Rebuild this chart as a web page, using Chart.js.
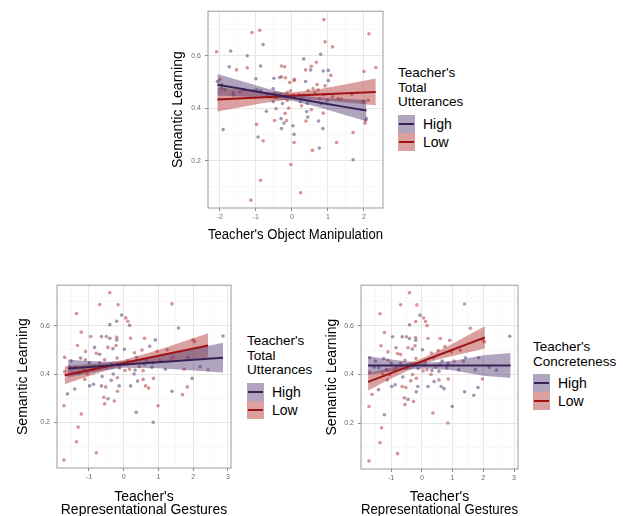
<!DOCTYPE html>
<html>
<head>
<meta charset="utf-8">
<script src="https://cdn.jsdelivr.net/npm/chart.js@4.4.1/dist/chart.umd.min.js"></script>
<style>
  body { margin: 0; background: #fff; font-family: "Liberation Sans", Arial, sans-serif; }
  #wrap { position: relative; width: 623px; height: 516px; overflow: hidden; }
  canvas { position: absolute; }
  .legend { position: absolute; font-size: 13.5px; color: #000; }
  .legend .ttl { line-height: 14.5px; white-space: nowrap; }
  .key { position: relative; height: 18px; }
  .key .box { position: absolute; left: 0; top: 0; width: 17px; height: 18px; }
  .key .box i { position: absolute; left: 1px; right: 1px; top: 8px; height: 2px; }
  .key span { position: absolute; left: 25px; top: 0; line-height: 18px; font-size: 14px; }
  .hi .box { background: rgba(80, 55, 110, 0.45); }
  .hi .box i { background: #3a2155; }
  .lo .box { background: rgba(175, 45, 45, 0.45); }
  .lo .box i { background: #9e1414; }
</style>
</head>
<body>
<div id="wrap">
  <canvas id="topChart" width="216" height="239" style="left:171px;top:3px"></canvas>
  <canvas id="leftChart" width="219" height="240" style="left:16px;top:277px"></canvas>
  <canvas id="rightChart" width="197" height="240" style="left:325px;top:277px"></canvas>

  <div class="legend" style="left:398px;top:66px">
    <div class="ttl">Teacher's<br>Total<br>Utterances</div>
    <div style="height:5px"></div>
    <div class="key hi"><div class="box"><i></i></div><span>High</span></div>
    <div class="key lo"><div class="box"><i></i></div><span>Low</span></div>
  </div>
  <div class="legend" style="left:247px;top:334px">
    <div class="ttl">Teacher's<br>Total<br>Utterances</div>
    <div style="height:5px"></div>
    <div class="key hi"><div class="box"><i></i></div><span>High</span></div>
    <div class="key lo"><div class="box"><i></i></div><span>Low</span></div>
  </div>
  <div class="legend" style="left:533px;top:340px">
    <div class="ttl">Teacher's<br>Concreteness</div>
    <div style="height:5px"></div>
    <div class="key hi"><div class="box"><i></i></div><span>High</span></div>
    <div class="key lo"><div class="box"><i></i></div><span>Low</span></div>
  </div>
</div>

<script>
// ---- top panel: object manipulation (grouped by total utterances) ----
const manipX = [0.89, 2.14, -1.11, -0.89, 0.92, 1.13, -0.80, -1.70, -2.09, -1.24, 0.80, 0.33, 0.68, 0.54, 0.38, -0.29, -0.20, -0.87, -1.74, -1.24,
  -1.54, 0.52, 0.87, 1.01, 1.08, 2.00, 2.33, -1.00, -0.50, -0.34, -0.29, -0.18, -0.06, 0.06, 0.07, 0.38, 0.70, 0.92, 1.01, -1.44,
  -1.63, -0.87, -0.47, -0.52, -0.26, -0.13, 0.24, 0.43, 0.77, 0.81, 0.27, -0.44, -0.09, 0.41, 0.54, 0.87, -0.19, -0.71, -0.48, -0.15,
  -0.22, -0.30, 0.03, 0.39, 0.44, 0.74, -0.29, 0.86, 2.05, 2.07, 2.03, -1.91, -0.98, -0.94, -0.80, 0.06, 0.06, 1.24, 1.70, 0.76,
  0.57, 1.70, -0.03, -0.87, 0.24, -1.14, -1.95, -1.86, -1.63, -1.33, -1.07, -0.98, -0.69, -0.52, -0.43, -0.33, -0.19, -0.13, -0.04, 0.04,
  0.09, 0.20, 0.27, 0.33, 0.45, 0.59, 0.64, 0.73, 0.89, 0.98, 1.13, 1.28, 1.37, 1.66, 1.98, 2.12, -2.07, -2.00, -1.95];
const manipLearn = [0.738, 0.684, 0.689, 0.697, 0.653, 0.634, 0.643, 0.618, 0.615, 0.600, 0.606, 0.588, 0.575, 0.560, 0.546, 0.561, 0.558, 0.561, 0.558, 0.554,
  0.546, 0.546, 0.542, 0.544, 0.525, 0.540, 0.555, 0.512, 0.514, 0.517, 0.520, 0.516, 0.498, 0.505, 0.510, 0.502, 0.490, 0.485, 0.505, 0.462,
  0.458, 0.466, 0.458, 0.425, 0.418, 0.429, 0.425, 0.418, 0.436, 0.418, 0.409, 0.398, 0.400, 0.387, 0.394, 0.381, 0.380, 0.388, 0.353, 0.353,
  0.343, 0.360, 0.333, 0.351, 0.366, 0.351, 0.322, 0.322, 0.353, 0.360, 0.343, 0.318, 0.338, 0.290, 0.275, 0.300, 0.269, 0.269, 0.307, 0.248,
  0.239, 0.203, 0.185, 0.125, 0.077, 0.049, 0.490, 0.470, 0.450, 0.470, 0.466, 0.470, 0.450, 0.475, 0.440, 0.452, 0.445, 0.460, 0.466, 0.450,
  0.440, 0.452, 0.436, 0.450, 0.467, 0.475, 0.459, 0.470, 0.451, 0.428, 0.444, 0.437, 0.435, 0.452, 0.424, 0.430, 0.502, 0.510, 0.477];
const manipUtter = ['L','L','L','L','L','L','H','H','L','H','H','H','L','L','L','L','L','H','H','L',
  'L','H','H','H','L','L','L','H','H','H','L','L','L','L','L','H','L','L','H','L',
  'H','H','L','H','H','L','H','H','L','H','L','H','L','H','L','L','L','H','L','L',
  'H','H','H','L','H','H','H','H','L','H','L','H','L','H','L','H','L','L','L','H',
  'L','H','L','L','L','L','L','L','H','H','L','H','L','H','L','H','H','L','L','L',
  'H','L','L','H','L','L','H','L','L','H','L','L','L','L','H','L','H','L','H'];

// fitted lines and 95% bands
const manipHighFitX = [-2.07, -1.5, -0.75, 0, 0.75, 1.5, 2.07];
const manipHighFit  = [0.489, 0.476, 0.458, 0.440, 0.422, 0.404, 0.391];
const manipHighLo   = [0.448, 0.445, 0.439, 0.428, 0.403, 0.373, 0.350];
const manipHighHi   = [0.530, 0.507, 0.477, 0.452, 0.441, 0.435, 0.432];
const manipLowFitX  = [-2.07, -1.5, -0.75, 0, 0.75, 1.5, 2.33];
const manipLowFit   = [0.433, 0.437, 0.442, 0.447, 0.452, 0.457, 0.462];
const manipLowLo    = [0.387, 0.402, 0.421, 0.434, 0.431, 0.422, 0.411];
const manipLowHi    = [0.479, 0.471, 0.462, 0.460, 0.472, 0.491, 0.513];

// ---- bottom panels: representational gestures ----
const gestX = [-0.40, -0.69, -0.16, 1.39, -1.36, -0.06, 0.06, 0.12, 0.17, -0.20, -0.40, 1.58, -1.22, -0.95, -0.64, -0.50, -0.40, -0.20, -0.20, 0.20,
  0.60, 0.91, 1.99, 2.04, 2.86, -1.33, -1.10, -0.84, -0.69, -0.45, -0.31, -0.22, 0.02, 0.31, 0.53, 0.75, 0.96, 1.25, -1.70, -1.51,
  -1.24, -1.10, -0.99, -0.79, -0.55, -0.19, 0.12, 0.37, 0.66, 0.85, 1.42, 1.85, 2.43, 1.74, 1.20, 0.81, 0.56, 0.33, 0.17, -0.50,
  -0.69, -0.88, -1.15, -1.40, -1.70, -1.28, -1.12, -0.98, -0.87, -0.64, -0.52, -0.36, -0.18, -0.13, 0.20, 0.40, 0.56, 0.63, 0.72, 0.86,
  1.39, 1.69, 1.83, 1.97, -1.41, -1.62, -0.57, -0.45, -0.27, -0.18, 0.99, -1.72, -0.55, 0.36, -1.22, 0.85, -1.31, -1.36, -0.79, -1.72,
  -1.55, -1.05, -0.62, -0.30, -0.12, 0.04, 0.30, 0.60, 1.05, 1.35, 2.20, -0.85, 0.10, -0.35, 0.45];
const gestLearn = [0.736, 0.687, 0.686, 0.690, 0.650, 0.644, 0.632, 0.618, 0.601, 0.618, 0.604, 0.590, 0.573, 0.555, 0.555, 0.555, 0.548, 0.552, 0.541, 0.548,
  0.548, 0.541, 0.541, 0.534, 0.557, 0.518, 0.493, 0.510, 0.482, 0.510, 0.505, 0.518, 0.502, 0.488, 0.499, 0.515, 0.494, 0.500, 0.469, 0.455,
  0.466, 0.459, 0.446, 0.486, 0.459, 0.466, 0.455, 0.469, 0.455, 0.446, 0.469, 0.469, 0.418, 0.420, 0.420, 0.428, 0.414, 0.417, 0.420, 0.428,
  0.446, 0.418, 0.421, 0.428, 0.410, 0.403, 0.378, 0.351, 0.358, 0.351, 0.347, 0.374, 0.385, 0.351, 0.351, 0.371, 0.378, 0.351, 0.342, 0.382,
  0.329, 0.315, 0.347, 0.382, 0.338, 0.318, 0.304, 0.298, 0.289, 0.329, 0.269, 0.269, 0.277, 0.242, 0.235, 0.201, 0.181, 0.120, 0.075, 0.045,
  0.430, 0.400, 0.390, 0.400, 0.425, 0.415, 0.400, 0.440, 0.455, 0.455, 0.430, 0.430, 0.440, 0.440, 0.430];
const gestUtter = ['L','L','L','L','L','H','L','L','H','H','H','H','L','L','H','L','H','L','H','L',
  'L','H','L','L','H','L','L','H','H','L','H','L','H','L','L','H','L','L','L','H',
  'H','L','H','L','L','L','H','H','H','L','L','H','L','L','H','H','L','H','L','L',
  'H','L','L','L','L','H','L','H','H','H','L','H','L','H','H','H','L','L','L','L',
  'H','L','L','H','H','H','L','H','L','L','L','L','L','H','L','H','L','L','L','L',
  'H','L','H','H','H','L','H','H','L','L','H','H','L','H','L'];
const gestConcrete = ['L','L','L','L','L','H','L','L','L','L','H','L','L','H','H','L','H','L','H','L',
  'L','L','L','L','H','L','L','H','L','L','H','L','H','L','L','L','L','L','H','H',
  'H','L','H','L','L','L','H','H','H','H','H','H','H','H','H','H','H','H','L','L',
  'H','L','H','H','L','L','L','H','H','L','L','L','L','H','H','H','L','H','H','L',
  'H','H','H','L','H','L','L','H','L','H','H','L','L','L','H','L','L','L','L','L',
  'H','L','H','L','H','L','L','H','L','L','H','L','H','H','L'];

// bottom-left fits (grouped by total utterances)
const uttHighFitX = [-1.6, -1, -0.5, 0, 1, 2, 2.86];
const uttHighFit  = [0.423, 0.429, 0.434, 0.439, 0.449, 0.459, 0.467];
const uttHighLo   = [0.387, 0.404, 0.417, 0.426, 0.424, 0.415, 0.406];
const uttHighHi   = [0.459, 0.454, 0.451, 0.452, 0.473, 0.503, 0.529];
const uttLowFitX  = [-1.7, -1, -0.5, 0, 1, 1.7, 2.43];
const uttLowFit   = [0.395, 0.416, 0.431, 0.446, 0.476, 0.496, 0.518];
const uttLowLo    = [0.358, 0.392, 0.415, 0.434, 0.452, 0.460, 0.467];
const uttLowHi    = [0.432, 0.440, 0.447, 0.458, 0.499, 0.533, 0.569];

// bottom-right fits (grouped by concreteness)
const conHighFitX = [-1.75, -1, -0.3, 0.2, 1, 2, 2.89];
const conHighFit  = [0.437, 0.437, 0.437, 0.437, 0.437, 0.437, 0.437];
const conHighLo   = [0.399, 0.412, 0.422, 0.425, 0.418, 0.395, 0.386];
const conHighHi   = [0.475, 0.462, 0.452, 0.449, 0.456, 0.479, 0.488];
const conLowFitX  = [-1.75, -1, -0.1, 0.5, 1, 1.5, 2.05];
const conLowFit   = [0.370, 0.406, 0.449, 0.478, 0.502, 0.526, 0.552];
const conLowLo    = [0.334, 0.384, 0.437, 0.461, 0.476, 0.491, 0.507];
const conLowHi    = [0.406, 0.428, 0.461, 0.495, 0.527, 0.561, 0.598];

const FONT = '"Liberation Sans", Arial, sans-serif';
const HIGH_LINE = '#3a2155', HIGH_FILL = 'rgba(80, 55, 110, 0.45)', HIGH_PT = 'rgba(90, 65, 120, 0.55)';
const LOW_LINE = '#9e1414', LOW_FILL = 'rgba(175, 45, 45, 0.45)', LOW_PT = 'rgba(180, 60, 60, 0.55)';

function pointSet(xs, ys, groups, g, color) {
  const data = [];
  xs.forEach((x, i) => { if (groups[i] === g) data.push({ x: x, y: ys[i] }); });
  return { type: 'scatter', data: data, backgroundColor: color, borderWidth: 0, pointRadius: 1.8, order: 3 };
}

function bandSets(xs, fit, lo, hi, lineColor, fillColor) {
  const pts = arr => xs.map((x, i) => ({ x: x, y: arr[i] }));
  return [
    { type: 'line', data: pts(lo), borderColor: 'transparent', pointRadius: 0, fill: false, order: 2 },
    { type: 'line', data: pts(hi), borderColor: 'transparent', pointRadius: 0, fill: '-1', backgroundColor: fillColor, order: 2 },
    { type: 'line', data: pts(fit), borderColor: lineColor, borderWidth: 2, pointRadius: 0, fill: false, order: 1 }
  ];
}

function axis(min, max, major, minor, title, size, horizontal) {
  const isMajor = v => major.some(m => Math.abs(m - v) < 1e-9);
  return {
    type: 'linear', min: min, max: max,
    afterBuildTicks: s => { s.ticks = major.concat(minor).sort((a, b) => a - b).map(v => ({ value: v })); },
    afterFit: s => { if (horizontal) s.height = size; else s.width = size; },
    grid: {
      color: c => (c.tick && isMajor(c.tick.value)) ? '#e6e6e6' : '#f3f3f3',
      lineWidth: c => (c.tick && isMajor(c.tick.value)) ? 1 : 0.6,
      tickColor: c => (c.tick && isMajor(c.tick.value)) ? '#8c8c8c' : 'rgba(0,0,0,0)',
      tickLength: 3
    },
    border: { display: false },
    ticks: {
      autoSkip: false, maxRotation: 0, padding: horizontal ? 2 : 4,
      color: '#6b6b6b', font: { size: 7, family: FONT },
      callback: v => isMajor(v) ? String(v) : ''
    },
    title: { display: true, text: title, color: '#000', padding: 0, font: { size: 14, family: FONT, lineHeight: 0.95 } }
  };
}

// panel border drawn over everything, like ggplot's theme_bw
const boxPlugin = {
  id: 'panelBox',
  afterDatasetsDraw(chart) {
    const a = chart.chartArea, ctx = chart.ctx;
    ctx.save();
    ctx.strokeStyle = '#9a9a9a';
    ctx.lineWidth = 1;
    ctx.strokeRect(a.left, a.top, a.right - a.left, a.bottom - a.top);
    ctx.restore();
  }
};

function makeChart(id, datasets, xScale, yScale) {
  return new Chart(document.getElementById(id), {
    type: 'scatter',
    data: { datasets: datasets },
    options: {
      responsive: false, animation: false, devicePixelRatio: 1,
      layout: { padding: { top: 6, right: 4, left: 0, bottom: 0 } },
      scales: { x: xScale, y: yScale },
      plugins: { legend: { display: false }, tooltip: { enabled: false } }
    },
    plugins: [boxPlugin]
  });
}

const yMajor = [0.2, 0.4, 0.6], yMinor = [0.1, 0.3, 0.5, 0.7];

makeChart('topChart', [
    pointSet(manipX, manipLearn, manipUtter, 'H', HIGH_PT),
    pointSet(manipX, manipLearn, manipUtter, 'L', LOW_PT),
    ...bandSets(manipHighFitX, manipHighFit, manipHighLo, manipHighHi, HIGH_LINE, HIGH_FILL),
    ...bandSets(manipLowFitX, manipLowFit, manipLowLo, manipLowHi, LOW_LINE, LOW_FILL)
  ],
  axis(-2.33, 2.53, [-2, -1, 0, 1, 2], [-1.5, -0.5, 0.5, 1.5], "Teacher's Object Manipulation", 34, true),
  axis(0.019, 0.77, yMajor, yMinor, 'Semantic Learning', 37, false));

makeChart('leftChart', [
    pointSet(gestX, gestLearn, gestUtter, 'H', HIGH_PT),
    pointSet(gestX, gestLearn, gestUtter, 'L', LOW_PT),
    ...bandSets(uttHighFitX, uttHighFit, uttHighLo, uttHighHi, HIGH_LINE, HIGH_FILL),
    ...bandSets(uttLowFitX, uttLowFit, uttLowLo, uttLowHi, LOW_LINE, LOW_FILL)
  ],
  axis(-1.92, 3.09, [-1, 0, 1, 2, 3], [-1.5, -0.5, 0.5, 1.5, 2.5], ["Teacher's", 'Representational Gestures'], 49, true),
  axis(0.012, 0.767, yMajor, yMinor, 'Semantic Learning', 41, false));

makeChart('rightChart', [
    pointSet(gestX, gestLearn, gestConcrete, 'H', HIGH_PT),
    pointSet(gestX, gestLearn, gestConcrete, 'L', LOW_PT),
    ...bandSets(conHighFitX, conHighFit, conHighLo, conHighHi, HIGH_LINE, HIGH_FILL),
    ...bandSets(conLowFitX, conLowFit, conLowLo, conLowHi, LOW_LINE, LOW_FILL)
  ],
  axis(-1.98, 3.13, [-1, 0, 1, 2, 3], [-1.5, -0.5, 0.5, 1.5, 2.5], ["Teacher's", 'Representational Gestures'], 48, true),
  axis(0.012, 0.767, yMajor, yMinor, 'Semantic Learning', 36, false));
</script>
</body>
</html>
